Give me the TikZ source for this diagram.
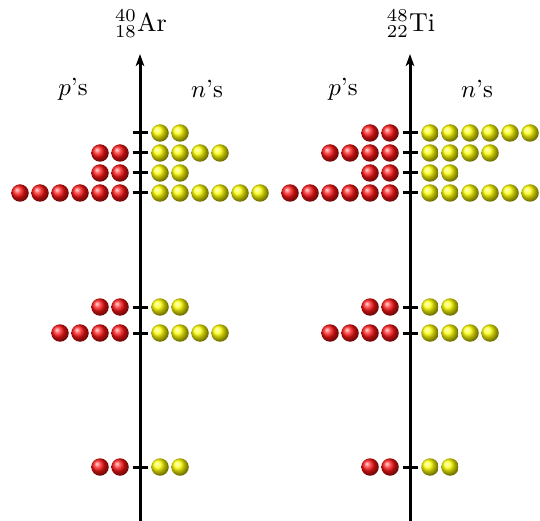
\documentclass[tikz,border=0pt]{standalone}
\usetikzlibrary{arrows.meta,shadings}
\begin{document}
\begin{tikzpicture}[x=1pt,y=-1pt,
  proton/.style={circle,inner sep=0pt,minimum size=17.5pt,shading=ball,ball color=red!92!white},
  neutron/.style={circle,inner sep=0pt,minimum size=17.5pt,shading=ball,ball color=yellow},
  axisline/.style={line width=3pt,-{Stealth[length=12pt,width=8.5pt,inset=3pt]}},
  tickmark/.style={line width=3pt},
  lbl/.style={inner sep=0pt}]
\useasboundingbox (0,0) rectangle (540,521);
% axes
\foreach \nm/\ax in {L/140,R/410}{
  \coordinate (\nm bot) at (\ax,521);
  \coordinate (\nm top) at (\ax,54);
  \draw[axisline] (\nm bot) -- (\nm top);
}
\node[lbl] (arlabel) at (141,24) {\scalebox{2.6}{$^{40}_{18}$Ar}};
\node[lbl] (tilabel) at (411,24) {\scalebox{2.6}{$^{48}_{22}$Ti}};
\node[lbl] (pL) at (73,89) {\scalebox{2.5}{$p$'s}};
\node[lbl] (nL) at (207,89) {\scalebox{2.5}{$n$'s}};
\node[lbl] (pR) at (343,89) {\scalebox{2.5}{$p$'s}};
\node[lbl] (nR) at (477,89) {\scalebox{2.5}{$n$'s}};
% levels: name / axis x / y / protons / neutrons
\foreach \nm/\ax/\yy/\np/\nn in {
  La/140/133/0/2, Lb/140/153/2/4, Lc/140/173/2/2, Ld/140/193/6/6,
  Le/140/307/2/2, Lf/140/333/4/4, Lg/140/467/2/2,
  Ra/410/133/2/6, Rb/410/153/4/4, Rc/410/173/2/2, Rd/410/193/6/6,
  Re/410/307/2/2, Rf/410/333/4/4, Rg/410/467/2/2}{
  \coordinate (\nm l) at (\ax-7.5,\yy);
  \coordinate (\nm r) at (\ax+7.5,\yy);
  \draw[tickmark] (\nm l) -- (\nm r);
  \ifnum\np>0
    \foreach \k in {1,...,\np}{\node[proton] (\nm p\k) at (\ax-20*\k,\yy) {};}
  \fi
  \ifnum\nn>0
    \foreach \k in {1,...,\nn}{\node[neutron] (\nm n\k) at (\ax+20*\k,\yy) {};}
  \fi
}
\end{tikzpicture}
\end{document}
